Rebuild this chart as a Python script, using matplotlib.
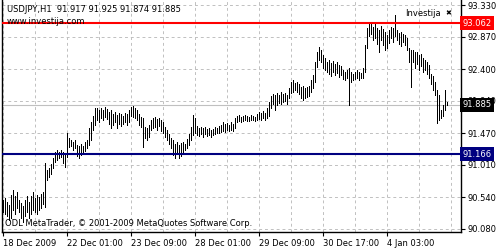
import matplotlib
matplotlib.use("Agg")
import matplotlib.pyplot as plt
import numpy as np

# USDJPY H1 bars (high / low), one per hour, left to right
highs = [
    90.501, 90.530, 90.472, 90.428, 90.573, 90.646, 90.559, 90.617, 90.501, 90.457,
    90.414, 90.501, 90.559, 90.472, 90.559, 90.617, 90.530, 90.573, 90.544, 90.588,
    90.617, 91.037, 90.936, 90.965, 91.023, 91.110, 91.197, 91.226, 91.197, 91.226,
    91.197, 91.153, 91.473, 91.401, 91.372, 91.343, 91.372, 91.299, 91.285, 91.314,
    91.285, 91.343, 91.372, 91.546, 91.633, 91.720, 91.836, 91.836, 91.807, 91.836,
    91.807, 91.850, 91.821, 91.778, 91.807, 91.749, 91.778, 91.734, 91.763, 91.749,
    91.720, 91.763, 91.749, 91.807, 91.850, 91.865, 91.836, 91.807, 91.749, 91.706,
    91.691, 91.560, 91.546, 91.589, 91.662, 91.691, 91.706, 91.676, 91.691, 91.662,
    91.633, 91.560, 91.517, 91.459, 91.401, 91.372, 91.314, 91.343, 91.299, 91.328,
    91.343, 91.314, 91.386, 91.459, 91.560, 91.734, 91.691, 91.575, 91.546, 91.560,
    91.546, 91.560, 91.531, 91.546, 91.517, 91.531, 91.560, 91.546, 91.575, 91.589,
    91.633, 91.604, 91.618, 91.589, 91.633, 91.604, 91.691, 91.720, 91.734, 91.706,
    91.720, 91.734, 91.720, 91.706, 91.734, 91.720, 91.706, 91.749, 91.778, 91.763,
    91.792, 91.763, 91.836, 91.923, 92.010, 92.039, 92.025, 92.054, 92.025, 92.068,
    92.039, 92.054, 92.025, 92.126, 92.213, 92.242, 92.199, 92.213, 92.184, 92.141,
    92.155, 92.126, 92.141, 92.155, 92.242, 92.315, 92.503, 92.648, 92.721, 92.677,
    92.605, 92.561, 92.503, 92.532, 92.488, 92.517, 92.474, 92.503, 92.459, 92.445,
    92.387, 92.358, 92.387, 92.416, 92.358, 92.329, 92.358, 92.387, 92.358, 92.344,
    92.416, 92.750, 92.997, 93.055, 93.069, 93.011, 93.055, 92.997, 92.968, 93.026,
    92.982, 92.939, 92.895, 92.968, 93.011, 92.997, 93.185, 92.968, 92.924, 92.939,
    92.910, 92.895, 92.852, 92.706, 92.677, 92.677, 92.648, 92.648, 92.605, 92.619,
    92.561, 92.532, 92.503, 92.459, 92.329, 92.300, 92.213, 92.097, 92.025, 91.807,
    91.879, 92.097, 91.925,
]
lows = [
    90.327, 90.298, 90.269, 90.211, 90.240, 90.356, 90.298, 90.385, 90.327, 90.240,
    90.182, 90.269, 90.327, 90.240, 90.298, 90.356, 90.327, 90.298, 90.356, 90.385,
    90.443, 90.399, 90.791, 90.834, 90.878, 90.965, 91.052, 91.081, 91.110, 91.125,
    91.037, 90.980, 91.125, 91.270, 91.285, 91.226, 91.255, 91.139, 91.110, 91.153,
    91.197, 91.212, 91.255, 91.299, 91.372, 91.517, 91.589, 91.662, 91.633, 91.691,
    91.662, 91.706, 91.676, 91.604, 91.546, 91.589, 91.633, 91.546, 91.604, 91.575,
    91.604, 91.633, 91.589, 91.633, 91.720, 91.706, 91.691, 91.662, 91.589, 91.560,
    91.270, 91.401, 91.372, 91.415, 91.517, 91.546, 91.560, 91.517, 91.575, 91.502,
    91.473, 91.415, 91.372, 91.314, 91.255, 91.153, 91.110, 91.197, 91.110, 91.139,
    91.183, 91.226, 91.255, 91.299, 91.372, 91.444, 91.473, 91.444, 91.430, 91.459,
    91.415, 91.459, 91.430, 91.444, 91.415, 91.444, 91.459, 91.473, 91.473, 91.488,
    91.502, 91.488, 91.517, 91.502, 91.517, 91.502, 91.546, 91.633, 91.647, 91.633,
    91.647, 91.662, 91.647, 91.647, 91.662, 91.662, 91.647, 91.662, 91.676, 91.662,
    91.691, 91.662, 91.691, 91.720, 91.836, 91.894, 91.807, 91.879, 91.908, 91.894,
    91.923, 91.937, 91.894, 91.981, 92.054, 92.068, 92.097, 92.068, 92.039, 91.981,
    91.952, 91.981, 91.996, 92.010, 92.068, 92.126, 92.213, 92.430, 92.532, 92.503,
    92.416, 92.387, 92.358, 92.329, 92.300, 92.358, 92.315, 92.344, 92.286, 92.315,
    92.256, 92.242, 92.271, 91.879, 92.213, 92.242, 92.256, 92.271, 92.242, 92.271,
    92.271, 92.358, 92.706, 92.881, 92.910, 92.823, 92.852, 92.765, 92.648, 92.823,
    92.750, 92.677, 92.706, 92.779, 92.852, 92.794, 92.881, 92.823, 92.765, 92.736,
    92.794, 92.750, 92.677, 92.503, 92.140, 92.503, 92.416, 92.474, 92.387, 92.445,
    92.358, 92.387, 92.329, 92.271, 92.184, 92.097, 92.025, 91.618, 91.662, 91.691,
    91.720, 91.807, 91.874,
]

time_labels = ["18 Dec 2009", "22 Dec 01:00", "23 Dec 09:00", "28 Dec 01:00",
               "29 Dec 09:00", "30 Dec 17:00", "4 Jan 03:00"]
label_every = 32          # bars between time labels
price_ticks = [93.330, 92.870, 92.400, 91.940, 91.470, 91.010, 90.540, 90.080]

resistance = 93.062
support = 91.166
bid = 91.885
header = "USDJPY,H1  91.917 91.925 91.874 91.885"

W, H = 503, 250
fig = plt.figure(figsize=(W / 100, H / 100), dpi=100)
plt.rcParams['font.family'] = ['DejaVu Sans']
fs = 6

# plot area in pixels: x 2..461, y 0..232
ax = fig.add_axes([2 / W, (H - 232) / H, (461 - 2) / W, 232 / H])
ax.set_xlim(-0.5, 229)
ax.set_ylim(90.036, 93.403)

idx = np.arange(len(highs))
ax.vlines(idx, lows, highs, colors='black', linewidth=0.5, antialiased=False, zorder=3)

# grid
ax.set_xticks(np.arange(len(time_labels)) * label_every)
ax.set_xticklabels(time_labels, ha='left', fontsize=fs)
ax.set_xticks(np.arange(0, 230, label_every // 2), minor=True)
ax.set_yticks(price_ticks)
ax.set_yticklabels([f"{v:.3f}" for v in price_ticks], fontsize=fs)
ax.grid(True, which='both', color='#c0c0c0', linestyle=(0, (3, 3)), linewidth=0.7)
ax.set_axisbelow(True)
ax.yaxis.tick_right()
ax.tick_params(axis='x', which='major', length=3, width=0.8, pad=2, labelsize=fs)
ax.tick_params(axis='x', which='minor', length=0)
ax.tick_params(axis='y', length=3, width=0.8, pad=2, labelsize=fs)
for lbl in ax.get_xticklabels():
    lbl.set_horizontalalignment('left')
ax.spines['top'].set_visible(False)
for s in ['left', 'right', 'bottom']:
    ax.spines[s].set_linewidth(1.0)

# bid, resistance and support lines
ax.axhline(bid, color='#c0c0c0', linewidth=0.8, zorder=2)
ax.axhline(resistance, color='#ff0000', linewidth=1.5, zorder=4)
ax.axhline(support, color='#000080', linewidth=1.5, zorder=4)

# price boxes on the right scale
for val, col in [(resistance, '#ff0000'), (bid, 'black'), (support, '#000080')]:
    ax.text(1.004, val, f"{val:.3f}", transform=ax.get_yaxis_transform(),
            color='white', fontsize=fs, va='center', ha='left', zorder=10, clip_on=False,
            bbox=dict(boxstyle='square,pad=0.3', fc=col, ec='none'))

# texts
fig.text(7 / W, 1 - 10 / H, header, fontsize=fs, va='center', ha='left')
fig.text(7 / W, 1 - 21 / H, "www.investija.com", fontsize=fs, va='center', ha='left')
fig.text(5 / W, 1 - 223 / H, "ODL MetaTrader, \u00a9 2001-2009 MetaQuotes Software Corp.",
         fontsize=fs, va='center', ha='left')
fig.text(405 / W, 1 - 13 / H, "Investija", fontsize=fs, va='center', ha='left')
fig.text(445 / W, 1 - 13 / H, "\u2716", fontsize=5, va='center', ha='left')

fig.savefig("out.png", dpi=100, facecolor='white')
